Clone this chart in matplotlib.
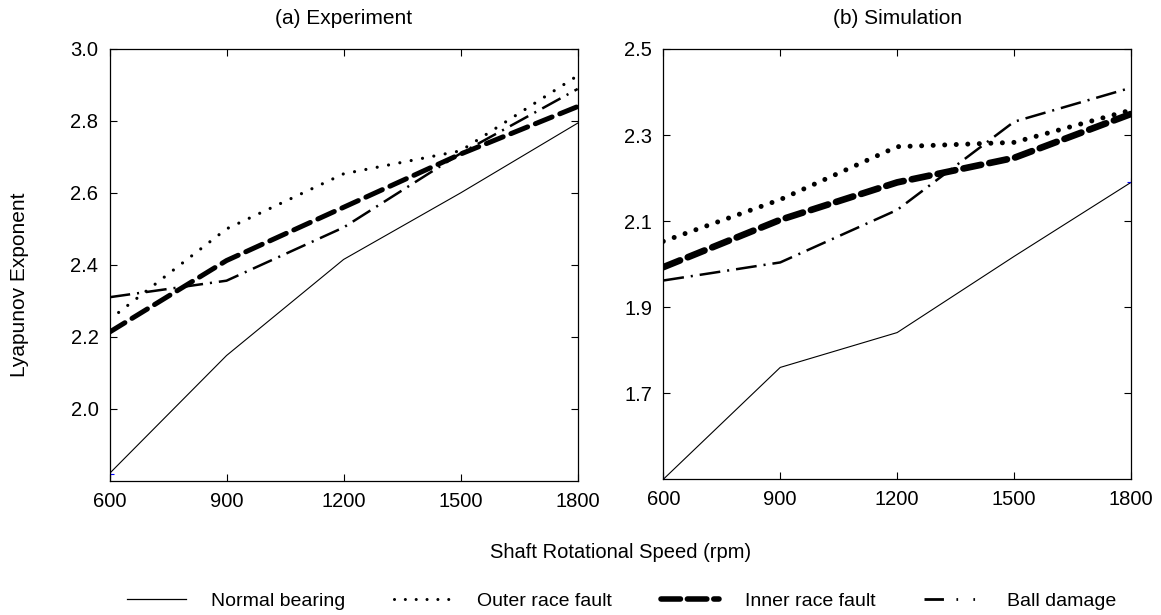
import matplotlib
matplotlib.use("Agg")
import matplotlib.pyplot as plt
from matplotlib.lines import Line2D

plt.rcParams['font.family'] = ['Liberation Sans', 'DejaVu Sans']
plt.rcParams['lines.scale_dashes'] = False

speeds = [600, 900, 1200, 1500, 1800]
series_names = ["Normal bearing", "Outer race fault", "Inner race fault", "Ball damage"]

# (a) Experiment
exp_normal = [1.82, 2.148, 2.415, 2.60, 2.794]
exp_outer = [2.248, 2.50, 2.653, 2.717, 2.926]
exp_inner = [2.213, 2.412, 2.56, 2.708, 2.84]
exp_ball = [2.31, 2.356, 2.504, 2.71, 2.889]

# (b) Simulation
sim_normal = [1.50, 1.76, 1.841, 2.018, 2.19]
sim_outer = [2.053, 2.15, 2.273, 2.283, 2.358]
sim_inner = [1.993, 2.103, 2.19, 2.247, 2.349]
sim_ball = [1.962, 2.004, 2.126, 2.331, 2.41]

xticks = [600, 900, 1200, 1500, 1800]
exp_yticks = [2.0, 2.2, 2.4, 2.6, 2.8, 3.0]
sim_yticks = [1.7, 1.9, 2.1, 2.3, 2.5]

fig = plt.figure(figsize=(11.61, 6.15), dpi=100)
ax1 = fig.add_axes([109.5/1161, 1-480.7/615, 468.2/1161, 431.7/615])
ax2 = fig.add_axes([663.3/1161, 1-479.3/615, 467.7/1161, 430.3/615])

def draw(ax, normal, outer, inner, ball, dot_lw, inner_lw, normal_marks):
    ax.plot(speeds, normal, color='black', lw=0.8, marker='+', markevery=normal_marks,
            mec='blue', ms=6, mew=0.8)
    ax.plot(speeds, outer, color='black', lw=dot_lw, dashes=(0.01, 8.3),
            dash_capstyle='round')
    ax.plot(speeds, inner, color='black', lw=inner_lw, dashes=(13, 6),
            dash_capstyle='round')
    ax.plot(speeds, ball, color='black', lw=1.8, dashes=(15, 5, 1.5, 5))

draw(ax1, exp_normal, exp_outer, exp_inner, exp_ball, 2.3, 3.6, [0])
draw(ax2, sim_normal, sim_outer, sim_inner, sim_ball, 3.6, 4.8, [0, 4])

for ax, yt, ylim, title in [(ax1, exp_yticks, (1.8, 3.0), "(a) Experiment"),
                            (ax2, sim_yticks, (1.5, 2.5), "(b) Simulation")]:
    ax.set_xlim(600, 1800)
    ax.set_ylim(*ylim)
    ax.set_xticks(xticks)
    ax.set_yticks(yt)
    ax.set_yticklabels([f"{v:.1f}" for v in yt])
    ax.tick_params(direction='in', top=True, right=True, length=5, width=0.8,
                   labelsize=14.5, pad=8)
    for s in ax.spines.values():
        s.set_linewidth(0.9)
    ax.set_title(title, fontsize=15, pad=18)

fig.text(20/1161, 1-285/615, "Lyapunov Exponent", rotation=90, fontsize=15,
         ha='center', va='center')
fig.text(620.7/1161, 1-552/615, "Shaft Rotational Speed (rpm)", fontsize=14.5,
         ha='center', va='center')

handles = [
    Line2D([], [], color='black', lw=0.9),
    Line2D([], [], color='black', lw=2.2, dashes=(0.01, 7.8), dash_capstyle='round'),
    Line2D([], [], color='black', lw=4.0, dashes=(14, 5), dash_capstyle='round'),
    Line2D([], [], color='black', lw=2.0, dashes=(14, 9, 1.2, 11, 1.2, 40)),
]
fig.legend(handles, series_names, loc='center', bbox_to_anchor=(622/1161, 1-601/615),
           ncol=4, frameon=False, fontsize=14, handlelength=3.0,
           handletextpad=1.3, columnspacing=2.5)

fig.savefig("out.png", dpi=100)
